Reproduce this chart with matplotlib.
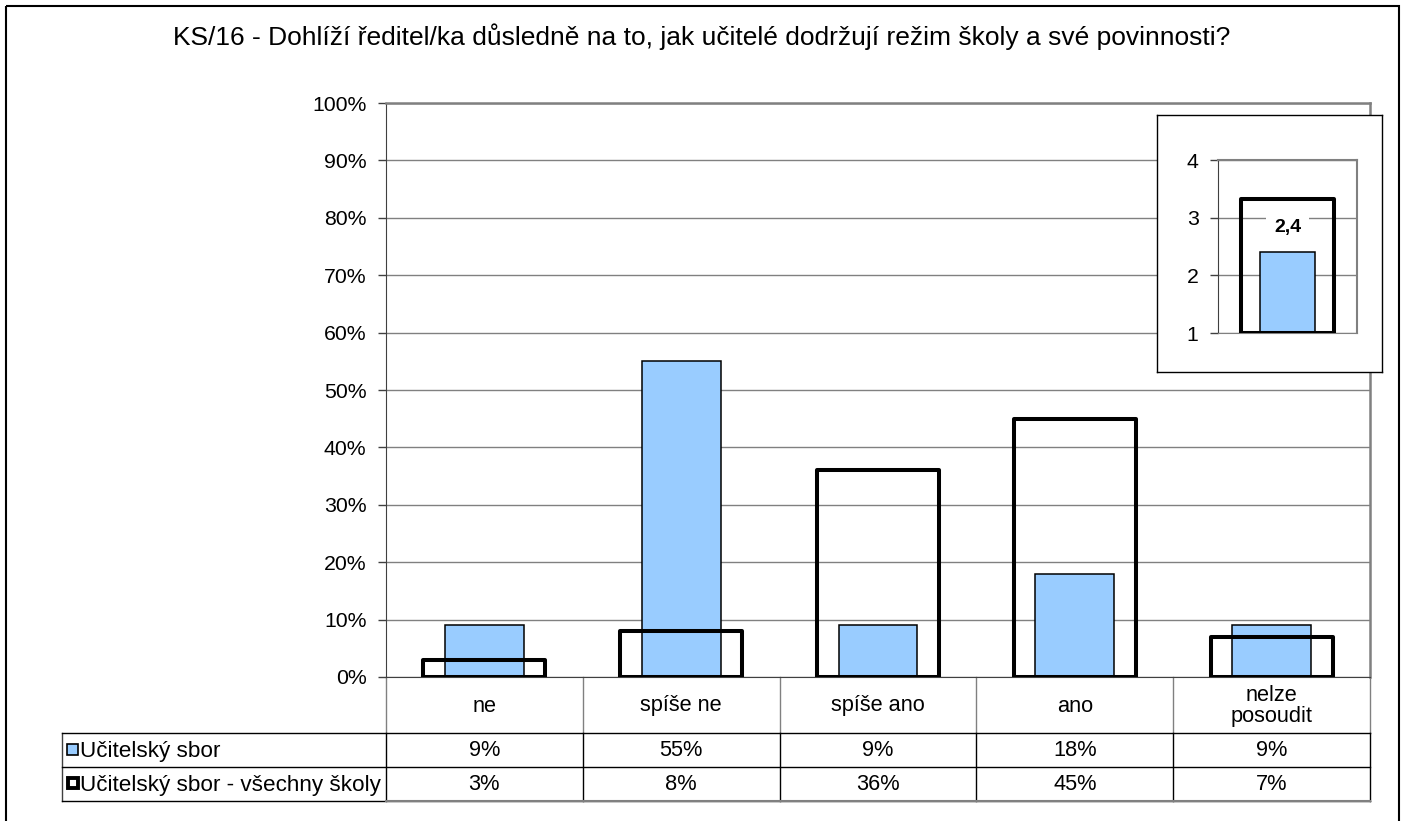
import matplotlib
matplotlib.use('Agg')
import matplotlib.pyplot as plt
from matplotlib.patches import Rectangle
from matplotlib.lines import Line2D
import numpy as np

plt.rcParams['font.family'] = ['Liberation Sans', 'DejaVu Sans']

# ---- data ----
title = 'KS/16 - Dohlíží ředitel/ka důsledně na to, jak učitelé dodržují režim školy a své povinnosti?'
categories = ['ne', 'spíše ne', 'spíše ano', 'ano', 'nelze\nposoudit']
series_names = ['Učitelský sbor', 'Učitelský sbor - všechny školy']
school = [9, 55, 9, 18, 9]
all_schools = [3, 8, 36, 45, 7]
y_ticks = list(range(0, 101, 10))
inset_school = [2.4]
inset_all = [3.33]
inset_label = '2,4'
inset_ticks = [1, 2, 3, 4]

BLUE = '#99CCFF'
GRID = '#808080'
FS = 15.3
FT = 15.7

W, H = 1404, 821
fig = plt.figure(figsize=(W / 100, H / 100), dpi=100)


def px(l, t, r, b):
    return [l / W, 1 - b / H, (r - l) / W, (b - t) / H]


# overlay in pixel coordinates (frame, title, table)
ov = fig.add_axes([0, 0, 1, 1], zorder=0)
ov.set_xlim(0, W)
ov.set_ylim(H, 0)
ov.axis('off')
ov.add_patch(Rectangle((6, 6), 1393, 830, fill=False, edgecolor='black', linewidth=1.5, clip_on=False))
ov.text(702, 37, title, ha='center', va='center', fontsize=19)

# ---- main axes ----
ax = fig.add_axes(px(386, 103, 1370, 677), zorder=2)
ax.patch.set_alpha(0)
x = np.arange(len(categories))
ax.bar(x, school, width=0.40, color=BLUE, edgecolor='black', linewidth=1.1, zorder=3)
ax.bar(x, all_schools, width=0.62, facecolor='none', edgecolor='black', linewidth=2.9,
       joinstyle='round', zorder=4)
ax.set_xlim(-0.5, len(categories) - 0.5)
ax.set_ylim(0, 100)
ax.set_yticks(y_ticks)
ax.set_yticklabels([f'{v}%' for v in y_ticks], fontsize=FS)
ax.yaxis.grid(True, color=GRID, linewidth=1.0, zorder=0)
ax.set_axisbelow(True)
ax.set_xticks([])
ax.tick_params(axis='y', length=6, width=1, color='#404040', pad=8)
ax.spines['left'].set_color('#404040')
ax.spines['bottom'].set_color('#404040')
for s in ('top', 'right'):
    ax.spines[s].set_color(GRID)
    ax.spines[s].set_linewidth(1.8)

# ---- table below ----
left_lbl, x0, x1 = 62, 386, 1370
y_top, y_r1, y_r2, y_bot = 677, 733, 767, 801
cw = (x1 - x0) / len(categories)
for i in range(len(categories) + 1):
    xx = x0 + i * cw
    ov.add_line(Line2D([xx, xx], [y_top, y_r1], color=GRID, linewidth=1.0))
    ov.add_line(Line2D([xx, xx], [y_r1, y_bot], color='black', linewidth=1.0))
ov.add_line(Line2D([left_lbl, left_lbl], [y_r1, y_bot], color='#404040', linewidth=1.0))
for yy in (y_r1, y_r2, y_bot):
    ov.add_line(Line2D([left_lbl, x1], [yy, yy], color='black', linewidth=1.0))
ov.add_line(Line2D([x0, x1], [y_bot, y_bot], color=GRID, linewidth=1.5))

for i, c in enumerate(categories):
    cx = x0 + (i + 0.5) * cw
    ov.text(cx, (y_top + y_r1) / 2 + 1, c, ha='center', va='center', fontsize=FT, linespacing=1.05)
    ov.text(cx, (y_r1 + y_r2) / 2 + 1, f'{school[i]}%', ha='center', va='center', fontsize=FT)
    ov.text(cx, (y_r2 + y_bot) / 2 + 1, f'{all_schools[i]}%', ha='center', va='center', fontsize=FT)

# legend keys + labels
ov.add_patch(Rectangle((67, 744), 11, 11, facecolor=BLUE, edgecolor='black', linewidth=1.2))
ov.add_patch(Rectangle((67.5, 778.5), 10, 10, facecolor='white', edgecolor='black', linewidth=2.8))
ov.text(80, (y_r1 + y_r2) / 2 + 1, series_names[0], ha='left', va='center', fontsize=16.2)
ov.text(80, (y_r2 + y_bot) / 2 + 1, series_names[1], ha='left', va='center', fontsize=16.2)

# ---- inset ----
box = fig.add_axes(px(1157, 115, 1382, 372), zorder=5)
box.set_xticks([]); box.set_yticks([])
for s in box.spines.values():
    s.set_color('black'); s.set_linewidth(1.0)

ins = fig.add_axes(px(1218, 160, 1357, 333), zorder=6)
ins.patch.set_alpha(0)
ins.bar([0], [v - 1 for v in inset_school], bottom=1, width=0.40, color=BLUE,
        edgecolor='black', linewidth=1.1, zorder=3)
ins.bar([0], [v - 1 for v in inset_all], bottom=1, width=0.67, facecolor='none',
        edgecolor='black', linewidth=2.9, joinstyle='round', zorder=4)
ins.set_xlim(-0.5, 0.5)
ins.set_ylim(1, 4)
ins.set_yticks(inset_ticks)
ins.set_yticklabels([str(t) for t in inset_ticks], fontsize=FS)
ins.yaxis.grid(True, color=GRID, linewidth=1.0, zorder=0)
ins.set_axisbelow(True)
ins.set_xticks([])
ins.tick_params(axis='y', length=6, width=1, color='#404040', pad=8)
ins.spines['left'].set_color('#404040')
ins.spines['bottom'].set_color(GRID)
for s in ('top', 'right'):
    ins.spines[s].set_color(GRID)
    ins.spines[s].set_linewidth(1.5)
ins.text(0, 2.83, inset_label, ha='center', va='center', fontsize=14, fontweight='bold',
         zorder=5, bbox=dict(boxstyle='square,pad=0.4', facecolor='white', edgecolor='none'))

fig.savefig('out.png', dpi=100)
